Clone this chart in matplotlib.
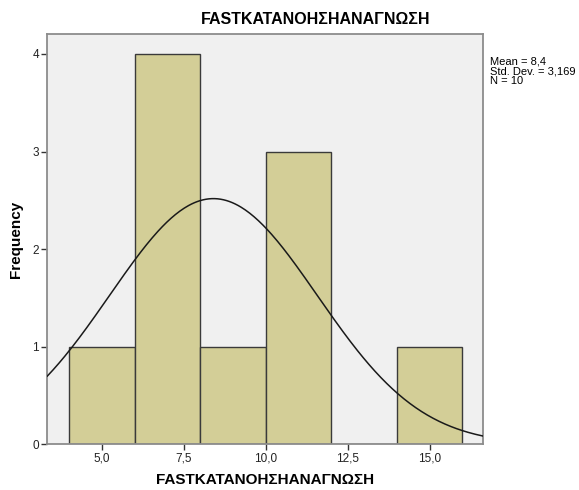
import numpy as np
import matplotlib
matplotlib.use("Agg")
import matplotlib.pyplot as plt
from matplotlib.ticker import FuncFormatter

# histogram data
bin_edges = [4, 6, 8, 10, 12, 14, 16]
counts = [1, 4, 1, 3, 0, 1]
mean = 8.4
std_dev = 3.169
n = 10
var_name = "FASTΚΑΤΑΝΟΗΣΗΑΝΑΓΝΩΣΗ"

BAR_COLOR = "#d3ce97"
BG_COLOR = "#f0f0f0"
FRAME_COLOR = "#8c8c8c"

plt.rcParams["font.family"] = ["Liberation Sans", "DejaVu Sans"]

fig = plt.figure(figsize=(5.79, 4.90), dpi=100)
ax = fig.add_axes([0.0817, 0.0929, 0.752, 0.837])
ax.set_facecolor(BG_COLOR)

widths = np.diff(bin_edges)
ax.bar(bin_edges[:-1], counts, width=widths, align="edge",
       color=BAR_COLOR, edgecolor="#3a3a3a", linewidth=1.0, zorder=2)

# normal curve scaled to counts (N * bin width)
x_min, x_max = 3.33, 16.62
xs = np.linspace(x_min, x_max, 300)
bw = widths[0]
ys = n * bw / (std_dev * np.sqrt(2 * np.pi)) * np.exp(-0.5 * ((xs - mean) / std_dev) ** 2)
ax.plot(xs, ys, color="#1a1a1a", linewidth=1.1, zorder=3)

ax.set_xlim(x_min, x_max)
ax.set_ylim(0, 4.2)
ax.set_xticks([5, 7.5, 10, 12.5, 15])
ax.set_yticks([0, 1, 2, 3, 4])
ax.xaxis.set_major_formatter(FuncFormatter(lambda v, p: "{:.1f}".format(v).replace(".", ",")))
ax.yaxis.set_major_formatter(FuncFormatter(lambda v, p: "{:d}".format(int(v))))

for s in ax.spines.values():
    s.set_color(FRAME_COLOR)
    s.set_linewidth(1.3)
ax.tick_params(direction="out", length=4, width=1, color="#333333",
               labelsize=8.5, labelcolor="#222222", pad=2)

ax.set_xlabel(var_name, fontsize=11, fontweight="bold", labelpad=6)
ax.set_ylabel("Frequency", fontsize=11, fontweight="bold", labelpad=7)

fig.text(316 / 579, 1 - 20 / 490, var_name, ha="center", va="center",
         fontsize=11.5, fontweight="bold")
fig.text(490 / 579, 1 - 56 / 490,
         "Mean = {}\nStd. Dev. = {}\nN = {}".format(
             str(mean).replace(".", ","), str(std_dev).replace(".", ","), n),
         ha="left", va="top", fontsize=8, linespacing=1.0)

fig.savefig("out.png", dpi=100)
